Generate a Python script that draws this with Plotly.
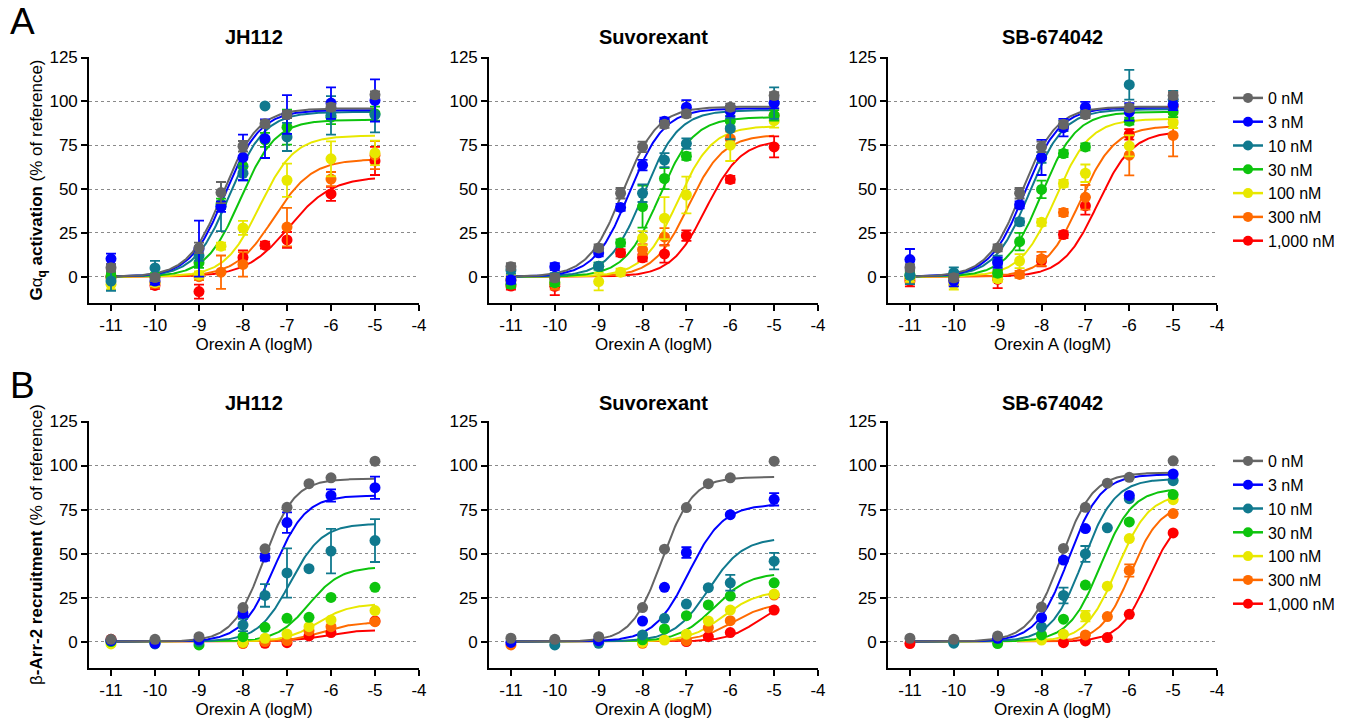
import numpy as np
import plotly.graph_objects as go

# ---------------- data ----------------
CONC_LABELS = ["0 nM", "3 nM", "10 nM", "30 nM", "100 nM", "300 nM", "1,000 nM"]
COLORS = ["#656565", "#0000ff", "#10798e", "#0dc40d", "#e8e800", "#ff6a00", "#ff0000"]
PANEL_TITLES = ["JH112", "Suvorexant", "SB-674042"]
X_TITLE = "Orexin A (logM)"
Y_TITLES = ["<b>G</b>α<sub><b>q</b></sub><b> activation</b> (% of reference)",
            "β<b>-Arr-2 recruitment</b> (% of reference)"]

X_A = [-11, -10, -9, -8.5, -8, -7.5, -7, -6, -5]
X_B = [-11, -10, -9, -8, -7.5, -7, -6.5, -6, -5]
X_TICKS = [-11, -10, -9, -8, -7, -6, -5, -4]
Y_TICKS = [0, 25, 50, 75, 100, 125]

N = None
# Row A: Gαq activation
A_JH112_Y = [
    [5.1, -0.5, 16.4, 48, 74.4, 87.2, 92.5, 96.7, 103.7],
    [10.2, -2.5, 16, 40, 68, 78.7, 92.5, 99, 100.5],
    [-2.5, 5, 12, 40, 59, 97.4, 79.7, 92, 92.3],
    [0, 0, 8, 41.5, 63, 78, 85.3, 91, 93],
    [-4.3, -3.4, 1, 17.4, 27.8, N, 55, 67.2, 70.6],
    [-0.6, -3.4, 0, 2.6, 7, N, 28.3, 55.7, 69.3],
    [0, -5, -8.5, N, 11, 18, 21, 47.2, 66],
]
A_JH112_E = [
    [2, 2, 3, 6, 3, 2, 2, 2, 2],
    [3, 2, 16, 3, 13, 11, 11, 9, 12],
    [5.5, 4, 3, 14, 4, 0, 8, 11, 10],
    [2, 2, 3, 3, 4, 4, 10, 4, 4],
    [3, 2, 2, 2, 4, 0, 9.5, 10, 7],
    [3, 3, 2, 9.5, 7, 0, 11, 4, 8],
    [2, 2, 4, 0, 4, 2, 4.5, 4, 8],
]
A_JH112_TOP = [96, 95, 94, 89.5, 80.5, 67, 57]
A_JH112_EC = [-8.45, -8.4, -8.3, -8.05, -7.62, -7.3, -6.95]
A_JH112_HILL = [1.1, 1.1, 1.1, 1.1, 1.1, 1.0, 0.9]

A_SUV_Y = [
    [5.7, -0.6, 16.4, 47.6, 74, 86.9, 92.9, 96.7, 103.3],
    [-1.9, 5.7, 13.6, 39.5, 63.6, 88.7, 96.7, 94.4, 99],
    [3.8, 0, 6, N, 47.6, 66.5, 75.9, 84.4, 99],
    [-4.3, -3.4, 6, 19.3, 40, 56, 68.7, 88.7, 92],
    [-1, -3, -2.8, 2.6, 22, 33.4, 46.6, 75, 89],
    [-2, -4.3, N, N, 15.5, 22.7, N, 78.7, 92],
    [-5.3, -5.5, N, 13.6, 10.8, 13, 23.4, 55.5, 74],
]
A_SUV_E = [
    [2, 2, 2, 3, 3, 2, 2, 2, 2],
    [2, 2, 2, 2, 3, 2, 4, 3, 3],
    [2, 2, 2, 0, 5, 4, 3, 6, 9],
    [2, 2, 2, 2, 12, 6, 2, 3, 3],
    [2, 2, 5, 2, 4, 12, 10.5, 9, 4],
    [2, 3, 0, 0, 3, 5, 0, 4, 4],
    [2, 5, 0, 2, 2, 5, 3, 2, 6],
]
A_SUV_TOP = [97, 96, 95, 91, 86, 81, 78]
A_SUV_EC = [-8.45, -8.3, -7.97, -7.62, -7.2, -6.95, -6.55]
A_SUV_HILL = [1.1, 1.1, 1.1, 1.1, 1.1, 1.1, 1.1]

A_SB_Y = [
    [5.1, -0.6, 16.4, 47.6, 74, 86.9, 92.5, 96.3, 103.3],
    [9.8, -2.5, 8, 41, 68, 85, 96.7, 94, 98],
    [0.8, 2.3, 9, 31.3, 68, 86, 94, 109.5, 101],
    [1, 0, 2, 20, 49.8, 70.2, 74, 88.7, 94],
    [0, -4.3, -1.1, 8.9, 31, 53.2, 59, 74.6, 87.8],
    [-1, -2, 0, 1.3, 10.2, 36.6, 45.3, 69.3, 80.6],
    [-2.5, 0, -1.5, N, 8.9, 24, 40.4, 81.2, 97],
]
A_SB_E = [
    [2, 2, 2, 3, 3, 2, 2, 2, 2],
    [6, 3, 3, 2, 10, 5, 3, 5, 3],
    [5, 3, 3, 2, 3, 3, 2, 8.5, 5],
    [2, 2, 2, 5, 5, 2, 2, 2, 3],
    [3, 3, 2, 4, 2, 2, 5, 6, 3],
    [3, 3, 2, 2, 4, 2, 7, 11.5, 12],
    [3, 2, 5, 0, 3, 2, 5, 3, 8],
]
A_SB_TOP = [97, 96.5, 95.5, 94, 90, 86, 83]
A_SB_EC = [-8.45, -8.38, -8.28, -8.0, -7.68, -7.12, -6.72]
A_SB_HILL = [1.1, 1.1, 1.1, 1.1, 1.1, 1.1, 1.1]

# Row B: β-Arr-2 recruitment
B_JH112_Y = [
    [1.3, 1.3, 2.8, 19.3, 52.7, 76.3, 89.7, 93, 102.5],
    [0.5, -1, 1, 16, 48, 67.6, N, 83, 87.4],
    [0.5, -1.3, 0, 9.4, 26.2, 39, 41.4, 51.4, 57.4],
    [0, 0, -1.9, 2.8, 8.1, 13.2, 13.8, 25.1, 30.8],
    [-1.3, N, N, -0.5, 1.9, 4.3, 8.5, 12.3, 17.6],
    [0, N, N, -1, 0, 0.6, 6.2, 8.5, 11.3],
    [1.3, N, N, -1, -1, -0.6, 3.2, 5.1, 11.7],
]
B_JH112_E = [
    [0, 0, 0, 0, 0, 0, 0, 0, 0],
    [0, 0, 0, 2, 2, 5.8, 0, 3.5, 6.3],
    [0, 0, 0, 3.5, 6.4, 14, 0, 12.6, 12.2],
    [0, 0, 0, 0, 0, 0, 0, 0, 0],
    [0, 0, 0, 0, 0, 0, 0, 0, 0],
    [0, 0, 0, 0, 0, 0, 0, 0, 0],
    [0, 0, 0, 0, 0, 0, 0, 0, 0],
]
B_JH112_TOP = [92.5, 83, 67, 42.5, 21.5, 11, 6.5]
B_JH112_EC = [-7.53, -7.3, -6.93, -6.5, -6.3, -6.2, -6.2]
B_JH112_HILL = [1.25, 1.2, 1.2, 1.2, 1.2, 1.2, 1.2]

B_SUV_Y = [
    [1.9, 1.3, 2.8, 19.3, 52.5, 76.1, 89.7, 93, 102.5],
    [-0.5, N, 0.5, 11.7, 30.8, 50.6, N, 72.1, 80.8],
    [N, -1.9, -1, 3.8, 13.2, 21.3, 30.6, 33.4, 45.7],
    [N, N, N, 1, 7.2, 14.7, 20.8, 25.9, 33.4],
    [N, N, N, -0.5, 0.9, 4.2, 11.7, 17.9, 27],
    [-1.9, N, N, -1, N, 0.5, 7.9, 11.9, 26.4],
    [N, N, N, N, N, 0, 2.8, 5.1, 17.9],
]
B_SUV_E = [
    [0, 0, 0, 0, 0, 0, 0, 0, 0],
    [0, 0, 0, 0, 0, 3, 0, 0, 3.5],
    [0, 0, 0, 0, 0, 0, 0, 4.5, 4.7],
    [0, 0, 0, 0, 0, 0, 0, 0, 0],
    [0, 0, 0, 0, 0, 0, 0, 0, 0],
    [0, 0, 0, 0, 0, 0, 0, 0, 0],
    [0, 0, 0, 0, 0, 0, 0, 0, 0],
]
B_SUV_TOP = [93.5, 78, 59, 39, 29, 22, 24]
B_SUV_EC = [-7.55, -6.95, -6.5, -6.37, -6.15, -5.95, -5.35]
B_SUV_HILL = [1.25, 1.1, 1.1, 1.1, 1.1, 1.1, 1.2]

B_SB_Y = [
    [1.9, 1.3, 3.2, 19.6, 52.9, 76.3, 90, 93.3, 102.7],
    [N, N, 1.9, 13.6, 46.3, 64.2, N, 83, 95.2],
    [N, -0.9, N, 8.3, 26.2, 49.8, 64.6, 81.2, 91.4],
    [N, N, -1.1, 3.8, 12.7, 32.1, N, 68, 83.5],
    [N, N, N, 0.9, 4.2, 14.5, 31.5, 58.5, 80.6],
    [N, N, N, N, N, 3.8, 14.2, 40.4, 72.7],
    [-1.1, N, N, N, -0.6, 0.4, 2.3, 15.5, 61.7],
]
B_SB_E = [
    [0, 0, 0, 0, 0, 0, 0, 0, 0],
    [0, 0, 0, 0, 0, 0, 0, 0, 0],
    [0, 0, 0, 0, 4.5, 4.5, 0, 0, 0],
    [0, 0, 0, 0, 0, 0, 0, 0, 0],
    [0, 0, 0, 0, 0, 3, 0, 0, 0],
    [0, 0, 0, 0, 0, 0, 0, 3.5, 0],
    [0, 0, 0, 0, 0, 0, 0, 0, 0],
]
B_SB_TOP = [96, 95, 92.5, 87, 84, 78, 73]
B_SB_EC = [-7.55, -7.38, -7.05, -6.65, -6.27, -5.97, -5.55]
B_SB_HILL = [1.2, 1.2, 1.2, 1.2, 1.2, 1.3, 1.3]

PANELS = [
    (X_A, A_JH112_Y, A_JH112_E, A_JH112_TOP, A_JH112_EC, A_JH112_HILL),
    (X_A, A_SUV_Y, A_SUV_E, A_SUV_TOP, A_SUV_EC, A_SUV_HILL),
    (X_A, A_SB_Y, A_SB_E, A_SB_TOP, A_SB_EC, A_SB_HILL),
    (X_B, B_JH112_Y, B_JH112_E, B_JH112_TOP, B_JH112_EC, B_JH112_HILL),
    (X_B, B_SUV_Y, B_SUV_E, B_SUV_TOP, B_SUV_EC, B_SUV_HILL),
    (X_B, B_SB_Y, B_SB_E, B_SB_TOP, B_SB_EC, B_SB_HILL),
]

# ---------------- figure ----------------
W, H = 1353, 723
FONT = "Liberation Sans, Arial, sans-serif"
X_DOMAINS = [(89, 419), (489, 818), (888, 1217)]
Y_DOMAINS = [(57, 303), (421, 668)]

fig = go.Figure()


def logistic(x, top, ec, hill, bottom=0.0):
    return bottom + (top - bottom) / (1 + 10 ** (hill * (ec - x)))


xfit = np.linspace(-11, -5, 240)

for p, (xs, Ys, Es, tops, ecs, hills) in enumerate(PANELS):
    ax = "" if p == 0 else str(p + 1)
    xref, yref = "x" + ax, "y" + ax
    order = list(range(6, -1, -1))
    for s in order:
        fig.add_trace(go.Scatter(
            x=xfit, y=logistic(xfit, tops[s], ecs[s], hills[s]),
            mode="lines", line=dict(color=COLORS[s], width=2),
            xaxis=xref, yaxis=yref, showlegend=False, hoverinfo="skip"))
    for s in order:
        fig.add_trace(go.Scatter(
            x=xs, y=Ys[s], mode="markers",
            marker=dict(color=COLORS[s], size=11, line=dict(width=0)),
            error_y=dict(type="data", array=Es[s], visible=True,
                         color=COLORS[s], thickness=1.8, width=5),
            xaxis=xref, yaxis=yref, showlegend=False))

# legend entries
for leg, ax in (("legend", "3"), ("legend2", "6")):
    for s in range(7):
        fig.add_trace(go.Scatter(
            x=[None], y=[None], mode="lines+markers", name=CONC_LABELS[s],
            line=dict(color=COLORS[s], width=2.5),
            marker=dict(color=COLORS[s], size=10),
            xaxis="x" + ax, yaxis="y" + ax, legend=leg, showlegend=True))

layout = dict(
    width=W, height=H, margin=dict(l=0, r=0, t=0, b=0),
    paper_bgcolor="white", plot_bgcolor="white",
    font=dict(family=FONT, size=17, color="black"),
    showlegend=True,
)

for p in range(6):
    col, row = p % 3, p // 3
    x0, x1 = X_DOMAINS[col]
    y0, y1 = Y_DOMAINS[row]
    ax = "" if p == 0 else str(p + 1)
    layout["xaxis" + ax] = dict(
        domain=[x0 / W, x1 / W], range=[-11.5, -4], anchor="y" + ax,
        tickvals=X_TICKS, ticktext=[str(v) for v in X_TICKS],
        ticks="outside", ticklen=6, tickwidth=1.5, tickcolor="black",
        showline=True, linewidth=1.6, linecolor="black",
        showgrid=False, zeroline=False, tickfont=dict(size=17),
        title=dict(text=X_TITLE, font=dict(size=17), standoff=3),
        automargin=False)
    ydict = dict(
        domain=[1 - y1 / H, 1 - y0 / H], range=[-15, 125.3], anchor="x" + ax,
        tickvals=Y_TICKS, ticks="outside", ticklen=6, tickwidth=1.5,
        tickcolor="black", showline=True, linewidth=1.6, linecolor="black",
        showgrid=True, gridcolor="#8a8a8a", griddash="dot", gridwidth=1,
        zeroline=False, tickfont=dict(size=17), automargin=False)
    if col == 0:
        ydict["title"] = dict(text=Y_TITLES[row], font=dict(size=17), standoff=2)
    layout["yaxis" + ax] = ydict

layout["legend"] = dict(x=1228 / W, y=1 - 81 / H, xanchor="left", yanchor="top",
                        font=dict(size=16), tracegroupgap=0, bgcolor="rgba(0,0,0,0)")
layout["legend2"] = dict(x=1228 / W, y=1 - 444 / H, xanchor="left", yanchor="top",
                         font=dict(size=16), tracegroupgap=0, bgcolor="rgba(0,0,0,0)")

annotations = []
for row, ty in enumerate((37, 403)):
    for col in range(3):
        x0, x1 = X_DOMAINS[col]
        annotations.append(dict(text="<b>%s</b>" % PANEL_TITLES[col], x=(x0 + x1) / 2 / W,
                                y=1 - ty / H, xref="paper", yref="paper", showarrow=False,
                                xanchor="center", yanchor="middle", font=dict(size=20)))
annotations.append(dict(text="A", x=22 / W, y=1 - 21 / H, xref="paper", yref="paper",
                        showarrow=False, xanchor="center", yanchor="middle", font=dict(size=37)))
annotations.append(dict(text="B", x=22 / W, y=1 - 385 / H, xref="paper", yref="paper",
                        showarrow=False, xanchor="center", yanchor="middle", font=dict(size=37)))
layout["annotations"] = annotations

fig.update_layout(**layout)
fig.write_html("out.html")
